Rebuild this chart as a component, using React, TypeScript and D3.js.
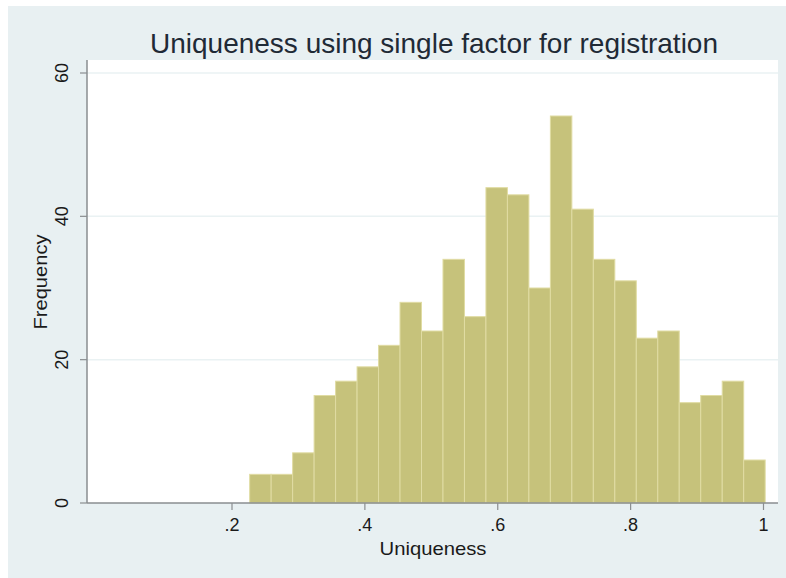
import React from "react";
import * as d3 from "d3";

const counts = [4, 4, 7, 15, 17, 19, 22, 28, 24, 34, 26, 44, 43, 30, 54, 41, 34, 31, 23, 24, 14, 15, 17, 6];
const binStart = 0.2266;
const binWidth = 0.03233;
const xTicks = [0.2, 0.4, 0.6, 0.8, 1];
const xTickLabels = [".2", ".4", ".6", ".8", "1"];
const yTicks = [0, 20, 40, 60];
const title = "Uniqueness using single factor for registration";
const xTitle = "Uniqueness";
const yTitle = "Frequency";

const W = 786;
const H = 578;
const FONT = "'Liberation Sans', Arial, Helvetica, sans-serif";

export default function App() {
  const plotLeft = 87;
  const plotRight = 778;
  const plotTop = 60;
  const plotBottom = 503;

  const x = d3.scaleLinear().domain([0.2, 1]).range([232, 763.5]);
  const y = d3.scaleLinear().domain([0, 60]).range([plotBottom, 73]);

  const bins = counts.map((c, i) => ({
    x0: binStart + i * binWidth,
    x1: binStart + (i + 1) * binWidth,
    c,
  }));

  return (
    <svg
      width={W}
      height={H}
      style={{ position: "absolute", left: 0, top: 0, display: "block" }}
    >
      <rect x={0} y={0} width={W} height={H} fill="#ffffff" />
      <rect x={8} y={6} width={W - 8} height={H - 6} fill="#e8f0f2" />
      <rect
        x={plotLeft}
        y={plotTop}
        width={plotRight - plotLeft}
        height={plotBottom - plotTop}
        fill="#ffffff"
      />
      {yTicks
        .filter((t) => t > 0)
        .map((t) => (
          <line
            key={"g" + t}
            x1={plotLeft}
            x2={plotRight}
            y1={y(t)}
            y2={y(t)}
            stroke="#eaf2f3"
            strokeWidth={1.5}
          />
        ))}
      {bins.map((b, i) => (
        <rect
          key={i}
          x={x(b.x0)}
          y={y(b.c)}
          width={x(b.x1) - x(b.x0)}
          height={y(0) - y(b.c)}
          fill="#c6c27b"
          stroke="#e0dca3"
          strokeWidth={1}
        />
      ))}
      <line x1={plotLeft} x2={plotLeft} y1={plotTop} y2={plotBottom} stroke="#8a8e90" strokeWidth={1.5} />
      <line x1={plotLeft} x2={plotRight} y1={plotBottom} y2={plotBottom} stroke="#8a8e90" strokeWidth={1.5} />
      {yTicks.map((t) => (
        <g key={"y" + t}>
          <line x1={plotLeft - 7} x2={plotLeft} y1={y(t)} y2={y(t)} stroke="#8a8e90" strokeWidth={1.2} />
          <text
            transform={`translate(${68},${y(t)}) rotate(-90)`}
            textAnchor="middle"
            fontFamily={FONT}
            fontSize={18}
            fill="#1a1a1a"
          >
            {t}
          </text>
        </g>
      ))}
      {xTicks.map((t, i) => (
        <g key={"x" + t}>
          <line x1={x(t)} x2={x(t)} y1={plotBottom} y2={plotBottom + 7} stroke="#8a8e90" strokeWidth={1.2} />
          <text
            x={x(t)}
            y={plotBottom + 28}
            textAnchor="middle"
            fontFamily={FONT}
            fontSize={18}
            fill="#1a1a1a"
          >
            {xTickLabels[i]}
          </text>
        </g>
      ))}
      <text
        x={433}
        y={555}
        textAnchor="middle"
        fontFamily={FONT}
        fontSize={19}
        fill="#1a1a1a"
        textLength={107}
        lengthAdjust="spacingAndGlyphs"
      >
        {xTitle}
      </text>
      <text
        transform={`translate(${47},${282}) rotate(-90)`}
        textAnchor="middle"
        fontFamily={FONT}
        fontSize={19}
        fill="#1a1a1a"
        textLength={95}
        lengthAdjust="spacingAndGlyphs"
      >
        {yTitle}
      </text>
      <text
        x={434}
        y={53}
        textAnchor="middle"
        fontFamily={FONT}
        fontSize={28}
        fill="#1f2a36"
        textLength={568}
        lengthAdjust="spacingAndGlyphs"
      >
        {title}
      </text>
    </svg>
  );
}
